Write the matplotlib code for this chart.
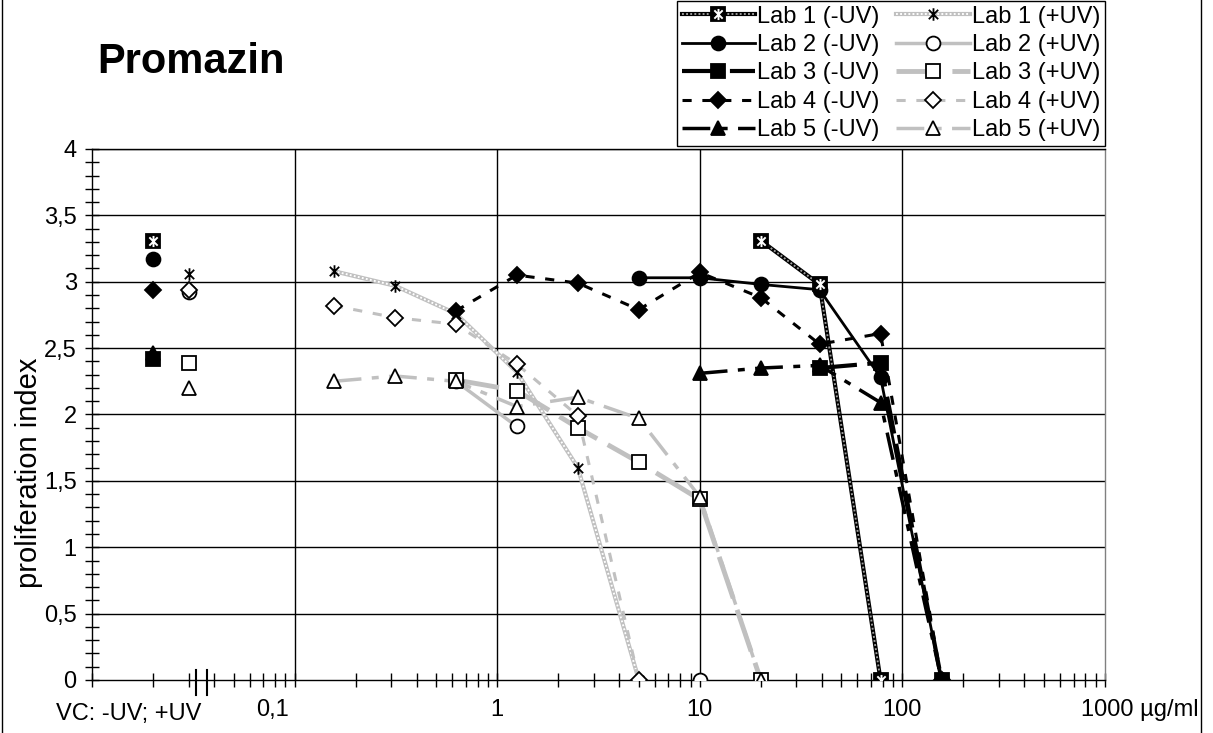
import numpy as np
import matplotlib.pyplot as plt
from matplotlib.lines import Line2D
from matplotlib.path import Path
from matplotlib.legend_handler import HandlerTuple
from matplotlib.ticker import FixedLocator, FuncFormatter, MultipleLocator
import matplotlib.transforms as mtransforms

plt.rcParams['font.family'] = ['Liberation Sans', 'DejaVu Sans']

# concentrations in ug/ml (two-fold dilution series)
CONC = [0.156, 0.3125, 0.625, 1.25, 2.5, 5, 10, 20, 39, 78, 156]
nan = np.nan

# proliferation index per lab, NaN = not measured
LAB1_MINUS = [nan, nan, nan, nan, nan, nan, nan, 3.31, 2.98, 0.0, nan]
LAB1_PLUS = [3.08, 2.97, 2.76, 2.32, 1.60, 0.0, nan, nan, nan, nan, nan]
LAB2_MINUS = [nan, nan, nan, nan, nan, 3.03, 3.03, 2.98, 2.94, 2.28, 0.0]
LAB2_PLUS = [nan, nan, 2.25, 1.91, nan, nan, 0.0, nan, nan, nan, nan]
LAB3_MINUS = [nan, nan, nan, nan, nan, nan, nan, nan, 2.35, 2.39, 0.0]
LAB3_PLUS = [nan, nan, 2.26, 2.18, 1.90, 1.64, 1.36, 0.0, nan, nan, nan]
LAB4_MINUS = [nan, nan, 2.78, 3.05, 2.99, 2.79, 3.07, 2.88, 2.53, 2.61, 0.0]
LAB4_PLUS = [2.82, 2.73, 2.68, 2.38, 1.99, 0.0, nan, nan, nan, nan, nan]
LAB5_MINUS = [nan, nan, nan, nan, nan, nan, 2.31, 2.35, 2.37, 2.09, 0.0]
LAB5_PLUS = [2.25, 2.29, 2.25, 2.06, 2.13, 1.97, 1.38, 0.0, nan, nan, nan]

# vehicle controls (-UV, +UV) for lab 1..5
VC_POS = [0.02, 0.03]
VC_MINUS = [3.31, 3.17, 2.42, 2.94, 2.46]
VC_PLUS = [3.06, 2.92, 2.39, 2.94, 2.20]

LABELS_MINUS = ["Lab 1 (-UV)", "Lab 2 (-UV)", "Lab 3 (-UV)", "Lab 4 (-UV)", "Lab 5 (-UV)"]
LABELS_PLUS = ["Lab 1 (+UV)", "Lab 2 (+UV)", "Lab 3 (+UV)", "Lab 4 (+UV)", "Lab 5 (+UV)"]
XTICKS = [0.01, 0.1, 1, 10, 100, 1000]
XTICK_LABELS = ["", "0,1", "1", "10", "100", "1000 µg/ml"]

GRAY = '#c0c0c0'
FS = 17

# excel style asterisk: X plus a vertical bar
ASTER = Path([(0, -1), (0, 1), (-0.75, -0.75), (0.75, 0.75), (-0.75, 0.75), (0.75, -0.75)],
             [Path.MOVETO, Path.LINETO] * 3)

fig = plt.figure(figsize=(12.13, 7.33), dpi=100)
ax = fig.add_axes([92/1213, 1-680/733, (1105-92)/1213, (680-149)/733])


def draw(ax, x, y, vcx, vcy, color, lw, dashes, marker, ms, face, extra=None):
    """draws one series (line + markers) and its VC point, returns legend handles"""
    handles = []
    l, = ax.plot(x, y, color=color, lw=lw, zorder=3)
    ln = Line2D([], [], color=color, lw=lw)
    if dashes is not None:
        l.set_dashes(dashes)
        ln.set_dashes(dashes)
    handles.append(ln)
    if extra is not None:
        # dotted overlay for the patterned lines of lab 1
        ax.plot(x, y, color=extra, lw=lw*0.45, ls=(0, (1, 1.2)), zorder=3)
        handles.append(Line2D([], [], color=extra, lw=lw*0.45, ls=(0, (1, 1.2))))
    mk = dict(marker=marker, ms=ms, mfc=face, mec='black', mew=1.3, ls='none', zorder=4)
    ax.plot(x, y, **mk)
    ax.plot([vcx], [vcy], clip_on=False, **mk)
    handles.append(Line2D([], [], **mk))
    return handles


h = []
# -UV series
hh = draw(ax, CONC, LAB1_MINUS, VC_POS[0], VC_MINUS[0], 'black', 3, None, 's', 10, 'black', extra='#a0a0a0')
wx = dict(marker=ASTER, ms=8, mec='white', mew=1.4, ls='none', zorder=5)
ax.plot(CONC, LAB1_MINUS, **wx)
ax.plot([VC_POS[0]], [VC_MINUS[0]], **wx)
hh.append(Line2D([], [], **wx))
h.append(tuple(hh))
h.append(tuple(draw(ax, CONC, LAB2_MINUS, VC_POS[0], VC_MINUS[1], 'black', 2, None, 'o', 10, 'black')))
h.append(tuple(draw(ax, CONC, LAB3_MINUS, VC_POS[0], VC_MINUS[2], 'black', 3, (9, 2.5), 's', 9.5, 'black')))
h.append(tuple(draw(ax, CONC, LAB4_MINUS, VC_POS[0], VC_MINUS[3], 'black', 2.2, (3, 3.5), 'D', 8, 'black')))
h.append(tuple(draw(ax, CONC, LAB5_MINUS, VC_POS[0], VC_MINUS[4], 'black', 2.5, (8, 3, 2, 3), '^', 10, 'black')))

# +UV series
h.append(tuple(draw(ax, CONC, LAB1_PLUS, VC_POS[1], VC_PLUS[0], GRAY, 3, None, ASTER, 9, 'none', extra='white')))
h.append(tuple(draw(ax, CONC, LAB2_PLUS, VC_POS[1], VC_PLUS[1], GRAY, 2.5, None, 'o', 10, 'white')))
h.append(tuple(draw(ax, CONC, LAB3_PLUS, VC_POS[1], VC_PLUS[2], GRAY, 3.5, (9, 2.5), 's', 9.5, 'white')))
h.append(tuple(draw(ax, CONC, LAB4_PLUS, VC_POS[1], VC_PLUS[3], GRAY, 2.2, (3, 3.5), 'D', 8, 'white')))
h.append(tuple(draw(ax, CONC, LAB5_PLUS, VC_POS[1], VC_PLUS[4], GRAY, 2.5, (8, 3, 2, 3), '^', 10, 'white')))

ax.set_xscale('log')
ax.set_xlim(0.01, 1000)
ax.set_ylim(0, 4)

# y axis
ax.yaxis.set_major_locator(MultipleLocator(0.5))
ax.yaxis.set_minor_locator(MultipleLocator(0.1))
ax.yaxis.set_major_formatter(FuncFormatter(lambda v, p: f"{v:g}".replace('.', ',')))
ax.tick_params(axis='y', which='both', direction='inout', length=10, width=1, labelsize=FS, pad=6)
ax.set_ylabel("proliferation index", fontsize=21, labelpad=2)
ax.yaxis.set_label_coords(-0.0485, 0.39)

# x axis
ax.xaxis.set_major_locator(FixedLocator(XTICKS))
minors = [m * 10.0**e for e in range(-2, 3) for m in range(2, 10)]
ax.xaxis.set_minor_locator(FixedLocator(minors))
ax.set_xticklabels(XTICK_LABELS)
ax.xaxis.set_minor_formatter(FuncFormatter(lambda v, p: ""))
ax.tick_params(axis='x', which='both', direction='inout', length=10, width=1, labelsize=FS, pad=9)
tl = ax.get_xticklabels()
tl[1].set_transform(tl[1].get_transform() + mtransforms.ScaledTranslation(-22/100, 0, fig.dpi_scale_trans))
tl[-1].set_ha('left')
tl[-1].set_transform(tl[-1].get_transform() + mtransforms.ScaledTranslation(-24/100, 0, fig.dpi_scale_trans))

trans = mtransforms.blended_transform_factory(ax.transData, ax.transAxes)
ax.text(0.0151, -0.043, "VC: -UV; +UV", transform=trans, ha='center', va='top', fontsize=FS)

# axis break marks
for bx in [0.0326, 0.037]:
    ax.plot([bx, bx], [-0.028, 0.019], color='black', lw=1.5, transform=trans, clip_on=False, zorder=6)

# grid
for gx in [0.1, 1, 10, 100]:
    ax.axvline(gx, color='black', lw=1, zorder=1)
for gy in np.arange(0.5, 4.01, 0.5):
    ax.axhline(gy, color='black', lw=1, zorder=1)
for s in ax.spines.values():
    s.set_linewidth(1)
ax.spines['right'].set_color('#808080')

fig.text(97/1213, 1-62/733, "Promazin", fontsize=30, fontweight='bold', va='center', ha='left')

leg = fig.legend(h, LABELS_MINUS + LABELS_PLUS, ncol=2, loc='upper right',
                 bbox_to_anchor=(1105/1213, 1-1/733), bbox_transform=fig.transFigure,
                 handler_map={tuple: HandlerTuple(ndivide=1)},
                 fontsize=FS, handlelength=3.1, handletextpad=0.1, columnspacing=0.7,
                 labelspacing=0.27, borderpad=0.2, borderaxespad=0, fancybox=False,
                 framealpha=1, edgecolor='black')
leg.get_frame().set_linewidth(1)

# outer chart border
fig.add_artist(Line2D([2/1213, 2/1213], [0, 1], color='black', lw=1))
fig.add_artist(Line2D([1201/1213, 1201/1213], [0, 1], color='black', lw=1))

fig.savefig("out.png", dpi=100)
